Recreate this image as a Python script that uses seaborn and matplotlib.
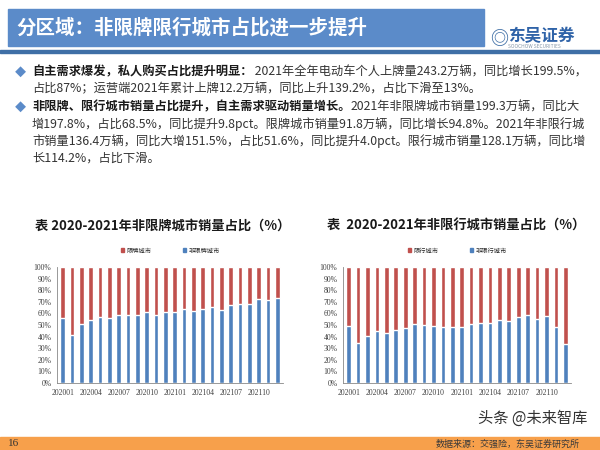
import matplotlib
matplotlib.use("Agg")
import pandas as pd
import seaborn as sns
from matplotlib import pyplot as plt
from matplotlib.patches import Rectangle

months = ["202001", "202002", "202003", "202004", "202005", "202006",
          "202007", "202008", "202009", "202010", "202011", "202012",
          "202101", "202102", "202103", "202104", "202105", "202106",
          "202107", "202108", "202109", "202110", "202111", "202112"]
tick_labels = ["202001", "202004", "202007", "202010", "202101", "202104", "202107", "202110"]

# share of non-restricted cities (%)
non_plate_share = [56, 41, 50.5, 54.5, 56.5, 56, 59, 59, 59, 61.5, 59, 61,
                   61.5, 64, 62.5, 63.5, 65.5, 63, 67.5, 68.5, 68.5, 72, 71.5, 73]
non_drive_share = [48.8, 34.5, 40.5, 44.5, 43, 46, 47.3, 50.5, 50, 49.5, 48, 48,
                   48.5, 51, 52, 52, 54.5, 53.5, 57.2, 58.2, 55.2, 57.5, 48.2, 33.6]

plate_legend = ["限牌城市", "非限牌城市"]
drive_legend = ["限行城市", "非限行城市"]

RED = "#C0504D"
BLUE = "#4F81BD"
W, H = 600, 450

sns.set_style("white")
plt.rcParams["font.family"] = ["Noto Sans CJK SC", "DejaVu Sans"]

fig = plt.figure(figsize=(6, 4.5), dpi=100)
fig.patch.set_facecolor("white")


def px(x, y):
    return x / W, 1 - y / H


def box(x0, y0, x1, y1, color):
    fig.patches.append(Rectangle(px(x0, y1), (x1 - x0) / W, (y1 - y0) / H,
                                 transform=fig.transFigure, color=color, zorder=0))


# header
box(8, 9, 484, 46, "#5B8BC9")
box(0, 50, 600, 53, "#3F6FA6")
fig.text(*px(16, 28), "分区域：非限牌限行城市占比进一步提升", color="white",
         fontsize=14, fontweight="bold", va="center")
fig.text(*px(490, 38), "◎", color="#3F6FA6", fontsize=13, fontweight="bold", va="center")
fig.text(*px(508, 36), "东吴证券", color="#2F63A8", fontsize=12, fontweight="bold", va="center")
fig.text(*px(508, 47), "SOOCHOW SECURITIES", color="#8899AA", fontsize=3.5, va="center")

# bullet text
renderer = fig.canvas.get_renderer()


def rich_line(x, y, bold, regular, size=8.8):
    t = fig.text(*px(x, y), bold, fontsize=size, fontweight="bold", va="center", color="#1a1a1a")
    x_end = x
    if bold:
        x_end = t.get_window_extent(renderer).x1
    else:
        x_end = x * fig.dpi * 6 / W
    fig.text(x_end / (fig.dpi * 6), 1 - y / H, regular, fontsize=size, va="center", color="#333333")


fig.text(*px(15, 72), "◆", color="#5B8BC9", fontsize=8, va="center")
fig.text(*px(15, 107), "◆", color="#5B8BC9", fontsize=8, va="center")
rich_line(32, 72, "自主需求爆发，私人购买占比提升明显：", " 2021年全年电动车个人上牌量243.2万辆，同比增长199.5%，")
rich_line(32, 89, "", "占比87%；运营端2021年累计上牌12.2万辆，同比上升139.2%，占比下滑至13%。")
rich_line(32, 107, "非限牌、限行城市销量占比提升，自主需求驱动销量增长。", "2021年非限牌城市销量199.3万辆，同比大")
rich_line(32, 124, "", "增197.8%，占比68.5%，同比提升9.8pct。限牌城市销量91.8万辆，同比增长94.8%。2021年非限行城")
rich_line(32, 141, "", "市销量136.4万辆，同比大增151.5%，占比51.6%，同比提升4.0pct。限行城市销量128.1万辆，同比增")
rich_line(32, 158, "", "长114.2%，占比下滑。")

# chart titles
fig.text(*px(35, 226), "表 2020-2021年非限牌城市销量占比（%）", fontsize=9.5,
         fontweight="bold", va="center", color="#1a1a1a")
fig.text(*px(327, 226), "表  2020-2021年非限行城市销量占比（%）", fontsize=9.5,
         fontweight="bold", va="center", color="#1a1a1a")


def stacked_share(ax, share, legend_labels):
    df = pd.DataFrame({"month": months, "total": [100.0] * len(months), "share": share})
    sns.barplot(df, x="month", y="total", color=RED, width=0.5, saturation=1, ax=ax)
    sns.barplot(df, x="month", y="share", color=BLUE, width=0.5, saturation=1, ax=ax)
    ax.set_xlim(-0.6, len(months) - 0.4)
    ax.set_ylim(0, 100)
    ax.set_xlabel("")
    ax.set_ylabel("")
    ax.set_yticks(range(0, 101, 10))
    ax.set_yticklabels([f"{v}%" for v in range(0, 101, 10)],
                       fontsize=5.5, family="Liberation Serif", color="#404040")
    ax.set_xticks([months.index(m) for m in tick_labels])
    ax.set_xticklabels(tick_labels, fontsize=5.5, family="Liberation Serif", color="#404040")
    ax.tick_params(axis="both", length=2, width=0.5, color="#888888", pad=2)
    for side in ["top", "right"]:
        ax.spines[side].set_visible(False)
    for side in ["left", "bottom"]:
        ax.spines[side].set_color("#888888")
        ax.spines[side].set_linewidth(0.6)
    handles = [Rectangle((0, 0), 1, 1, color=RED), Rectangle((0, 0), 1, 1, color=BLUE)]
    ax.legend(handles, legend_labels, loc="lower center", bbox_to_anchor=(0.5, 1.06),
              ncol=2, frameon=False, fontsize=4.5, handlelength=0.5, handleheight=0.5,
              handletextpad=0.4, columnspacing=5)


ax1 = fig.add_axes([57 / W, 1 - 383 / H, 226 / W, 116 / H])
stacked_share(ax1, non_plate_share, plate_legend)
ax2 = fig.add_axes([343 / W, 1 - 383 / H, 228 / W, 116 / H])
stacked_share(ax2, non_drive_share, drive_legend)

# footer
fig.text(*px(478, 418), "头条 @未来智库", fontsize=11, color="#333333", va="center")
box(0, 437, 600, 450, "#F7A04B")
fig.text(*px(8, 444), "16", fontsize=8, family="Liberation Serif", color="#333333", va="center")
fig.text(*px(580, 444), "数据来源：交强险，东吴证券研究所", fontsize=6.5, color="#3a3a3a",
         va="center", ha="right")

plt.savefig("out.png", dpi=100)
plt.close()
